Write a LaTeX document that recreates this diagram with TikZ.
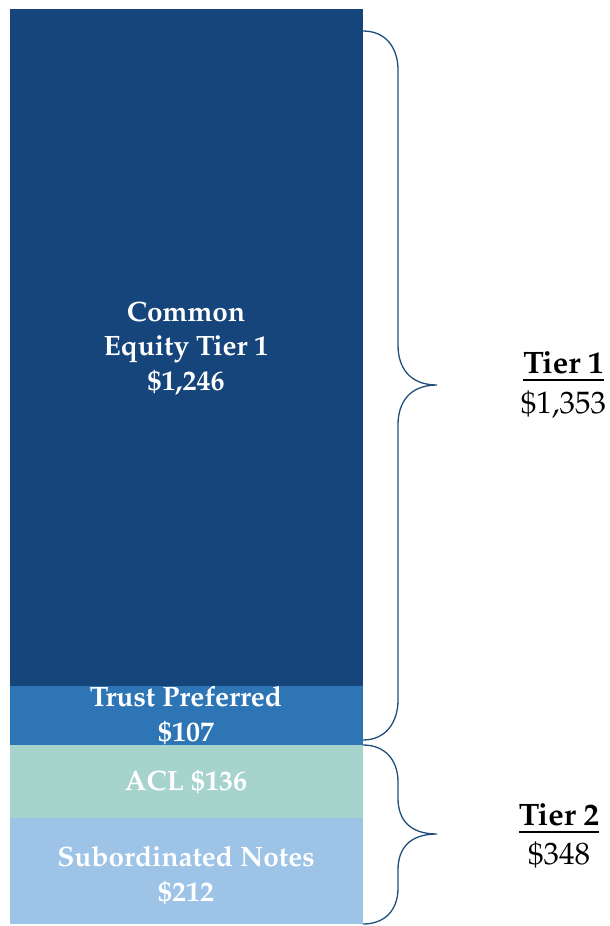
\documentclass[tikz,border=0pt]{standalone}
\usepackage[T1]{fontenc}
\usepackage{mathpazo}
\usetikzlibrary{calc}
\definecolor{cetblue}{RGB}{21,69,122}
\definecolor{trustblue}{RGB}{46,117,182}
\definecolor{aclgreen}{RGB}{166,212,204}
\definecolor{subblue}{RGB}{157,195,230}
\definecolor{bracecol}{RGB}{31,78,121}

\begin{document}
\begin{tikzpicture}[x=1pt,y=-1pt,
    barlabel/.style={text=white,font=\fontsize{28}{34.5}\selectfont\bfseries,align=center,inner sep=0pt,anchor=base},
    tiername/.style={font=\fontsize{31}{37}\selectfont\bfseries,inner sep=0pt,anchor=base},
    tieramount/.style={font=\fontsize{31}{37}\selectfont,inner sep=0pt,anchor=base},
    tierbrace/.style={draw=bracecol,line width=1.3pt}]
    \useasboundingbox (0,0) rectangle (610,926);
    % stacked bar
    \fill[cetblue] (10,9) rectangle (363,686);
    \fill[trustblue] (10,686) rectangle (363,745);
    \fill[aclgreen] (10,745) rectangle (363,818);
    \fill[subblue] (10,818) rectangle (363,924);
    % base anchor sits on the last line
    \node[barlabel] (cet) at (186,390) {Common\\Equity Tier 1\\\$1,246};
    \node[barlabel] (trust) at (186,741) {Trust Preferred\\\$107};
    \node[barlabel] (acl) at (186,790) {ACL \$136};
    \node[barlabel] (subnotes) at (186,901) {Subordinated Notes\\\$212};
    % braces
    \coordinate (tieronetop) at (363,31);
    \coordinate (tieronetip) at (437,385);
    \coordinate (tieronebot) at (363,740);
    \coordinate (tiertwotop) at (363,745);
    \coordinate (tiertwotip) at (437,834);
    \coordinate (tiertwobot) at (363,924);
    \draw[tierbrace] (tieronetop) .. controls (386,31) and (398,48) .. (398,70)
        -- (398,345) .. controls (398,368) and (410,385) .. (tieronetip)
        .. controls (410,385) and (398,402) .. (398,425)
        -- (398,700) .. controls (398,722) and (386,740) .. (tieronebot);
    \draw[tierbrace] (tiertwotop) .. controls (385,745) and (398,760) .. (398,782)
        -- (398,798) .. controls (398,820) and (410,834) .. (tiertwotip)
        .. controls (410,834) and (398,848) .. (398,870)
        -- (398,888) .. controls (398,910) and (385,924) .. (tiertwobot);
    % tier labels
    \node[tiername] (tierone) at (563.5,373) {Tier 1};
    \draw[line width=1.8pt] ($(tierone.base west)+(0,7)$) -- ($(tierone.base east)+(0,7)$);
    \node[tieramount] (tieroneamt) at (563.5,413) {\$1,353};
    \node[tiername] (tiertwo) at (559,825) {Tier 2};
    \draw[line width=1.8pt] ($(tiertwo.base west)+(0,7)$) -- ($(tiertwo.base east)+(0,7)$);
    \node[tieramount] (tiertwoamt) at (559,864) {\$348};
\end{tikzpicture}
\end{document}
